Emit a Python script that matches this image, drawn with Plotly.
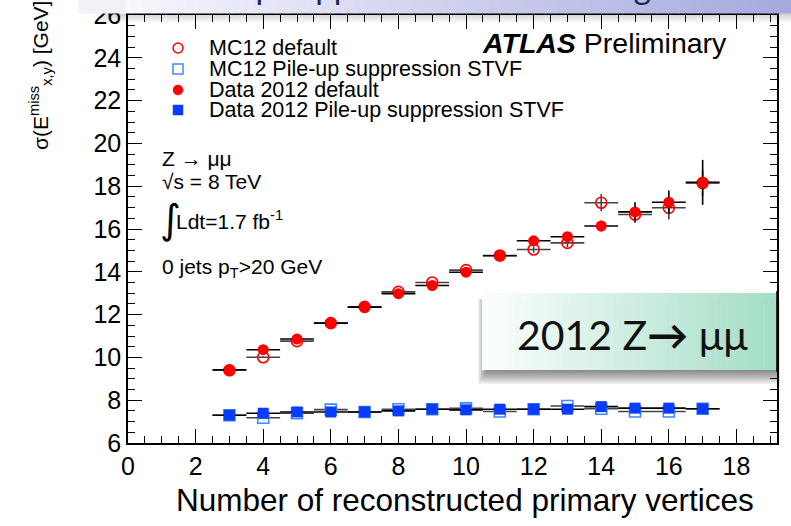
import plotly.graph_objects as go

# ---- data: E_T^miss resolution vs number of reconstructed primary vertices ----
nvtx = [3, 4, 5, 6, 7, 8, 9, 10, 11, 12, 13, 14, 15, 16, 17]
bin_halfwidth = 0.5

mc_default = [9.40, 10.01, 10.76, 11.60, 12.36, 13.06, 13.50, 14.08, 14.76, 15.04, 15.35, 17.23, 16.68, 16.99, 18.15]
mc_default_err = [0.04, 0.04, 0.05, 0.05, 0.06, 0.07, 0.08, 0.10, 0.12, 0.15, 0.20, 0.40, 0.40, 0.55, 0.60]

mc_stvf = [7.30, 7.18, 7.39, 7.56, 7.45, 7.58, 7.58, 7.62, 7.47, 7.58, 7.73, 7.60, 7.47, 7.47, 7.60]
mc_stvf_err = [0.03, 0.03, 0.03, 0.03, 0.03, 0.03, 0.04, 0.04, 0.05, 0.05, 0.06, 0.07, 0.08, 0.09, 0.10]

data_default = [9.42, 10.36, 10.86, 11.60, 12.35, 12.98, 13.36, 13.98, 14.75, 15.45, 15.64, 16.14, 16.80, 17.25, 18.18]
data_default_err = [0.04, 0.04, 0.04, 0.05, 0.05, 0.06, 0.07, 0.08, 0.10, 0.13, 0.15, 0.25, 0.45, 0.55, 1.05]

data_stvf = [7.30, 7.39, 7.45, 7.45, 7.45, 7.50, 7.58, 7.55, 7.58, 7.58, 7.58, 7.70, 7.63, 7.63, 7.60]
data_stvf_err = [0.02, 0.02, 0.02, 0.02, 0.03, 0.03, 0.03, 0.03, 0.04, 0.04, 0.05, 0.05, 0.06, 0.07, 0.08]

series_labels = [
    "MC12 default",
    "MC12 Pile-up suppression STVF",
    "Data 2012 default",
    "Data 2012 Pile-up suppression STVF",
]
x_ticks = [0, 2, 4, 6, 8, 10, 12, 14, 16, 18]
y_ticks = [6, 8, 10, 12, 14, 16, 18, 20, 22, 24, 26]

# ---- page geometry (pixels) ----
W, H = 791, 526
L, R, T, B = 128, 777, 15, 443
FONT = "Liberation Sans"

RED = "#ff0000"
BLUE = "#0a3cff"
LIGHT_BLUE = "#3d8bff"


def px(x):
    return (x - L) / (R - L)


def py(y):
    return (B - y) / (B - T)


fig = go.Figure()

styles = [
    (mc_default, mc_default_err, "circle-open", RED, 11, "#444444"),
    (mc_stvf, mc_stvf_err, "square-open", LIGHT_BLUE, 11, "#444444"),
    (data_default, data_default_err, "circle", RED, 11, "black"),
    (data_stvf, data_stvf_err, "square", BLUE, 11, "black"),
]
for (vals, errs, sym, col, size, ecol), name in zip(styles, series_labels):
    fig.add_trace(go.Scatter(
        x=nvtx, y=vals, mode="markers", name=name, showlegend=False,
        marker=dict(symbol=sym, color=col, size=size,
                    line=dict(width=1.6, color=col) if "open" in sym else dict(width=0)),
        error_x=dict(type="constant", value=bin_halfwidth, color=ecol, thickness=1.6, width=0),
        error_y=dict(type="data", array=errs, color=ecol, thickness=1.6, width=0),
    ))

shapes = []
annotations = []

# ---- legend keys ----
leg_rows = [48, 69, 90, 110]
leg_x = 178
r = 5
shapes.append(dict(type="circle", xref="paper", yref="paper",
                   x0=px(leg_x - r), x1=px(leg_x + r), y0=py(leg_rows[0] + r), y1=py(leg_rows[0] - r),
                   line=dict(color=RED, width=1.5), fillcolor="rgba(0,0,0,0)"))
shapes.append(dict(type="rect", xref="paper", yref="paper",
                   x0=px(leg_x - r), x1=px(leg_x + r), y0=py(leg_rows[1] + r), y1=py(leg_rows[1] - r),
                   line=dict(color=LIGHT_BLUE, width=1.5), fillcolor="rgba(0,0,0,0)"))
shapes.append(dict(type="circle", xref="paper", yref="paper",
                   x0=px(leg_x - r), x1=px(leg_x + r), y0=py(leg_rows[2] + r), y1=py(leg_rows[2] - r),
                   line=dict(color=RED, width=0.5), fillcolor=RED))
shapes.append(dict(type="rect", xref="paper", yref="paper",
                   x0=px(leg_x - r), x1=px(leg_x + r), y0=py(leg_rows[3] + r), y1=py(leg_rows[3] - r),
                   line=dict(color=BLUE, width=0.5), fillcolor=BLUE))
for yy, label in zip(leg_rows, series_labels):
    annotations.append(dict(text=label, xref="paper", yref="paper", x=px(207), y=py(yy),
                            xanchor="left", yanchor="middle", showarrow=False,
                            font=dict(family=FONT, size=21.5, color="black")))

# ---- ATLAS label and analysis info ----
annotations.append(dict(text="<b><i>ATLAS</i></b> Preliminary", xref="paper", yref="paper",
                        x=px(729), y=py(43), xanchor="right", yanchor="middle", showarrow=False,
                        font=dict(family=FONT, size=28.5, color="black")))
info = [
    ("Z → μμ", 160, 158, 21),
    ("√s = 8 TeV", 160, 181, 21),
    ("Ldt=1.7 fb<sup>-1</sup>", 174, 220, 21),
    ("0 jets p<sub>T</sub>>20 GeV", 160, 268, 21),
]
for txt, xx, yy, fs in info:
    annotations.append(dict(text=txt, xref="paper", yref="paper", x=px(xx), y=py(yy),
                            xanchor="left", yanchor="middle", showarrow=False,
                            font=dict(family=FONT, size=fs, color="black")))
annotations.append(dict(text="∫", xref="paper", yref="paper", x=px(158), y=py(219),
                        xanchor="left", yanchor="middle", showarrow=False,
                        font=dict(family="DejaVu Sans", size=40, color="black")))

# ---- axis titles ----
annotations.append(dict(text="σ(E<sup>miss</sup><sub>x,y</sub>) [GeV]", xref="paper", yref="paper",
                        x=px(40), y=py(76), xanchor="center", yanchor="middle", textangle=-90,
                        showarrow=False, font=dict(family=FONT, size=21, color="black")))
annotations.append(dict(text="Number of reconstructed primary vertices", xref="paper", yref="paper",
                        x=px(756), y=py(500), xanchor="right", yanchor="middle", showarrow=False,
                        font=dict(family=FONT, size=31.5, color="black")))


def lerp(c0, c1, t):
    return "rgb(%d,%d,%d)" % tuple(round(a + (b - a) * t) for a, b in zip(c0, c1))


# ---- slide banner along the top edge ----
for k in range(1, 9):
    shapes.append(dict(type="rect", xref="paper", yref="paper", layer="above",
                       x0=px(118 - k * 3), x1=px(W + 5), y0=py(13 + k * 1.2), y1=py(-2),
                       line=dict(width=0), fillcolor="rgba(0,0,0,0.022)"))
n = 60
bx0, bx1 = 120, W
for i in range(n):
    t = i / (n - 1)
    shapes.append(dict(type="rect", xref="paper", yref="paper", layer="above",
                       x0=px(bx0 + (bx1 - bx0) * i / n), x1=px(bx0 + (bx1 - bx0) * (i + 1) / n + 0.6),
                       y0=py(13.5), y1=py(-2),
                       line=dict(width=0), fillcolor=lerp((247, 247, 253), (166, 169, 222), t)))
# soft edge of the banner that hides the top of the "26" tick label
annotations.append(dict(text=" ", xref="paper", yref="paper", x=px(78), y=py(-1),
                        xanchor="left", yanchor="top", width=46, height=13, borderpad=0,
                        bgcolor="rgb(242,242,246)", showarrow=False,
                        font=dict(family=FONT, size=8)))
annotations.append(dict(text="Pile-up suppression with tracking", xref="paper", yref="paper",
                        x=px(170), y=py(16), xanchor="left", yanchor="bottom", yshift=8, showarrow=False,
                        font=dict(family="Lato", size=33, color="#1e2658")))

# ---- highlighted box ----
gx0, gx1, gy0, gy1 = 482, 776, 293, 370
for k in range(1, 11):
    shapes.append(dict(type="rect", xref="paper", yref="paper", layer="above",
                       x0=px(gx0 + 6 - k), x1=px(gx1 + k * 0.4), y0=py(gy1 + k * 1.4), y1=py(gy0 + 6),
                       line=dict(width=0), fillcolor="rgba(0,0,0,0.055)"))
for i in range(n):
    t = i / (n - 1)
    shapes.append(dict(type="rect", xref="paper", yref="paper", layer="above",
                       x0=px(gx0 + (gx1 - gx0) * i / n), x1=px(gx0 + (gx1 - gx0) * (i + 1) / n + 0.6),
                       y0=py(gy1), y1=py(gy0),
                       line=dict(width=0), fillcolor=lerp((252, 254, 253), (164, 222, 198), t)))
shapes.append(dict(type="line", xref="paper", yref="paper", layer="above",
                   x0=1, x1=1, y0=py(gy1 + 2), y1=py(gy0 - 2), line=dict(color="black", width=1.5)))
annotations.append(dict(text="2012 Z<b>→</b> μμ", xref="paper", yref="paper",
                        x=px(632), y=py(334), xanchor="center", yanchor="middle", showarrow=False,
                        font=dict(family="Lato", size=41, color="#111111")))

axis_common = dict(
    showline=True, linecolor="black", linewidth=1.5, mirror="allticks",
    ticks="inside", ticklen=14, tickwidth=1.2, tickcolor="black",
    showgrid=False, zeroline=False, automargin=False,
    tickfont=dict(family=FONT, size=25, color="black"),
)
fig.update_xaxes(range=[0, 19.2], tickvals=x_ticks,
                 minor=dict(dtick=0.5, ticks="inside", ticklen=7, tickcolor="black", tickwidth=1.2, showgrid=False),
                 **axis_common)
fig.update_yaxes(range=[6, 26], tickvals=y_ticks,
                 minor=dict(dtick=0.5, ticks="inside", ticklen=7, tickcolor="black", tickwidth=1.2, showgrid=False),
                 **axis_common)

fig.update_layout(
    width=W, height=H, autosize=False,
    margin=dict(l=L, r=W - R, t=T, b=H - B),
    paper_bgcolor="white", plot_bgcolor="white",
    shapes=shapes, annotations=annotations, showlegend=False,
)

fig.write_html("out.html")
